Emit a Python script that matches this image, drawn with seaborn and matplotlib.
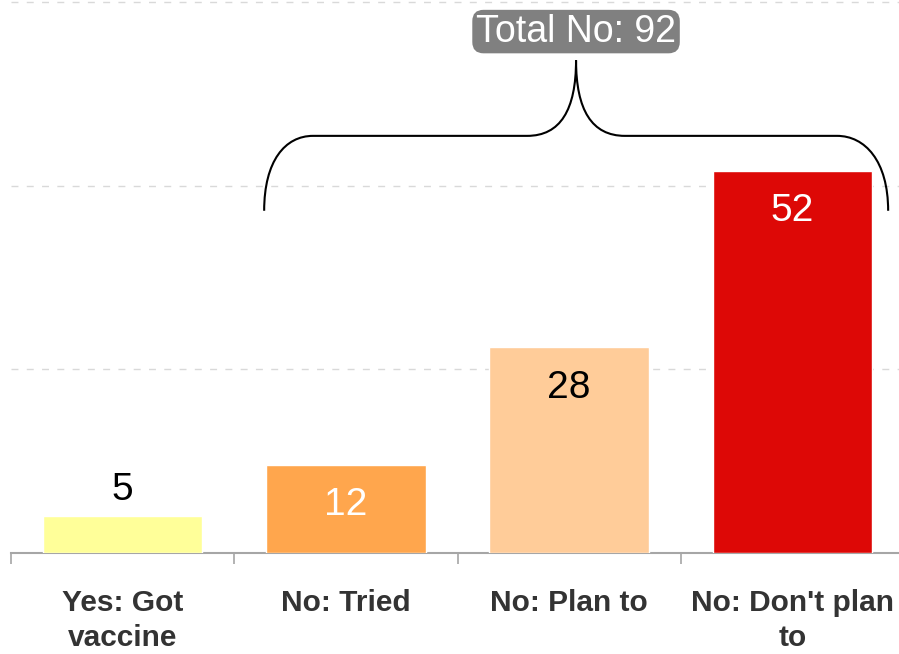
import matplotlib
matplotlib.use('Agg')
import matplotlib.pyplot as plt
import numpy as np
import pandas as pd
import seaborn as sns
from matplotlib.path import Path
from matplotlib.patches import PathPatch

# data
categories = ["Yes: Got\nvaccine", "No: Tried", "No: Plan to", "No: Don't plan\nto"]
counts = [5, 12, 28, 52]
bar_colors = ['#FFFF99', '#FFA64D', '#FFCC99', '#DD0806']
label_colors = ['black', 'white', 'black', 'white']
total_label = 'Total No: ' + str(sum(counts[1:]))

sns.set_theme(style='white')
plt.rcParams['font.family'] = ['Liberation Sans', 'DejaVu Sans']

df = pd.DataFrame({'answer': categories, 'n': counts})

fig = plt.figure(figsize=(8.99, 6.54), dpi=100)
ax = fig.add_axes([11 / 899, 101 / 654, 893 / 899, 553 / 654])

sns.barplot(data=df, x='answer', y='n', hue='answer', palette=bar_colors,
            width=0.715, saturation=1, legend=False, ax=ax, zorder=3)

ax.set_xlim(-0.5, 3.5)
ax.set_ylim(0, 75.3)
ax.set_xlabel('')
ax.set_ylabel('')

# gridlines
ax.set_yticks([25, 50, 75])
ax.yaxis.grid(True, color='#d9d9d9', linestyle=(0, (5, 6)), linewidth=1)
ax.tick_params(axis='y', left=False, labelleft=False)

# category boundaries as major ticks, labels on minor ticks
ax.set_xticks(np.arange(-0.5, 4, 1))
ax.set_xticklabels([])
ax.set_xticks(range(len(categories)), minor=True)
ax.set_xticklabels(categories, minor=True, fontsize=21.5, fontweight='bold', color='#333333',
                   linespacing=1.3)
ax.tick_params(axis='x', which='major', bottom=True, length=8, width=1.2, color='#a6a6a6',
               direction='out')
ax.tick_params(axis='x', which='minor', bottom=False, length=0, pad=26)

for s in ['top', 'left', 'right']:
    ax.spines[s].set_visible(False)
ax.spines['bottom'].set_color('#a6a6a6')
ax.spines['bottom'].set_linewidth(1.5)

# value labels
for i, v in enumerate(counts):
    if i == 0:
        ax.annotate(str(v), (i, v), xytext=(0, 6), textcoords='offset points',
                    ha='center', va='bottom', fontsize=28, color=label_colors[i])
    else:
        ax.annotate(str(v), (i, v), xytext=(0, -29), textcoords='offset points',
                    ha='center', va='center', fontsize=28, color=label_colors[i])

# brace over the "No" bars
xl, xr, xm = 0.634, 3.429, 2.031
y0, y1, yt = 46.6, 56.8, 67.1
verts = [
    (xl, y0), (xl, 53.4), (xl + 0.094, y1), (xl + 0.219, y1),
    (xm - 0.219, y1),
    (xm - 0.071, y1), (xm, 60.3), (xm, yt),
    (xm, 60.3), (xm + 0.071, y1), (xm + 0.219, y1),
    (xr - 0.229, y1),
    (xr - 0.104, y1), (xr, 53.4), (xr, y0),
]
codes = [Path.MOVETO, Path.CURVE4, Path.CURVE4, Path.CURVE4,
         Path.LINETO,
         Path.CURVE4, Path.CURVE4, Path.CURVE4,
         Path.CURVE4, Path.CURVE4, Path.CURVE4,
         Path.LINETO,
         Path.CURVE4, Path.CURVE4, Path.CURVE4]
ax.add_patch(PathPatch(Path(verts, codes), fc='none', ec='black', lw=1.5, zorder=4,
                       clip_on=False))

ax.text(xm, 71.0, total_label, ha='center', va='center', fontsize=27, color='white',
        bbox=dict(boxstyle='round,pad=0.1,rounding_size=0.3', fc='#808080', ec='none'),
        zorder=5)

fig.savefig('out.png', dpi=100)
